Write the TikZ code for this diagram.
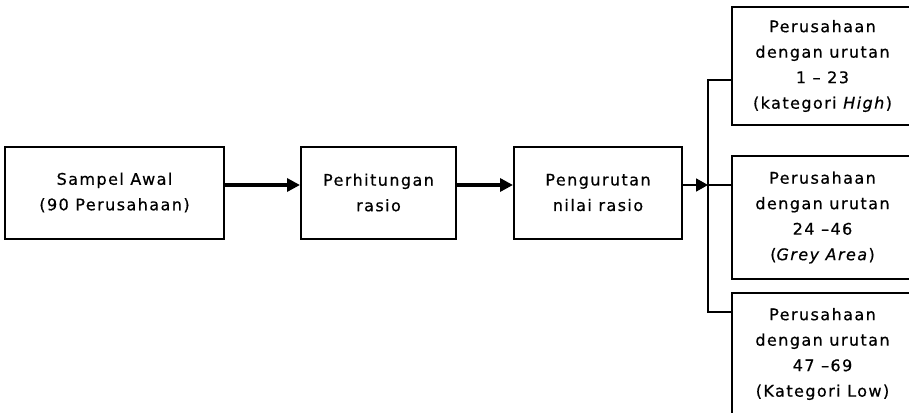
\documentclass[tikz,border=0pt]{standalone}
\usepackage{fontspec}
\setmainfont[LetterSpace=9,FakeBold=0.6]{DejaVu Sans}
\usetikzlibrary{arrows.meta}
\begin{document}
\begin{tikzpicture}[x=1pt,y=-1pt,
  box/.style={draw,line width=2pt,align=center,inner sep=0pt,
    font=\fontsize{16}{25.5}\selectfont},
  flow/.style={line width=3.4pt,-{Triangle[length=13pt,width=13pt]}},
  thin/.style={line width=1.8pt}]
\useasboundingbox (0,0) rectangle (909,412);
% main chain of boxes
\node[box,minimum width=219pt,minimum height=92pt] (b1) at (114.5,192.5) {Sampel Awal\\(90 Perusahaan)};
\node[box,minimum width=155pt,minimum height=92pt] (b2) at (378.5,192.5) {Perhitungan\\rasio};
\node[box,minimum width=168pt,minimum height=92pt] (b3) at (598,192.5) {Pengurutan\\nilai rasio};
% result boxes on the right
\node[box,minimum width=181pt,minimum height=118pt] (r1) at (822.5,66) {Perusahaan\\dengan urutan\\1 – 23\\(kategori \textit{High})};
\node[box,minimum width=181pt,minimum height=123pt] (r2) at (822.5,217.5) {Perusahaan\\dengan urutan\\24 –46\\(\textit{Grey Area})};
\node[box,minimum width=181pt,minimum height=122pt] (r3) at (822.5,354) {Perusahaan\\dengan urutan\\47 –69\\(Kategori Low)};
\coordinate (split) at (708,185);
\coordinate (top) at (708,80);
\coordinate (bot) at (708,312);
% connectors
\draw[flow] (b1.east |- split) -- (b2.west |- split);
\draw[flow] (b2.east |- split) -- (b3.west |- split);
\draw[thin,-{Triangle[length=12pt,width=13pt]}] (b3.east |- split) -- (split);
\draw[thin] (r1.west |- top) -- (top) -- (bot) -- (r3.west |- bot);
\draw[thin] (split) -- (r2.west |- split);
\end{tikzpicture}
\end{document}
